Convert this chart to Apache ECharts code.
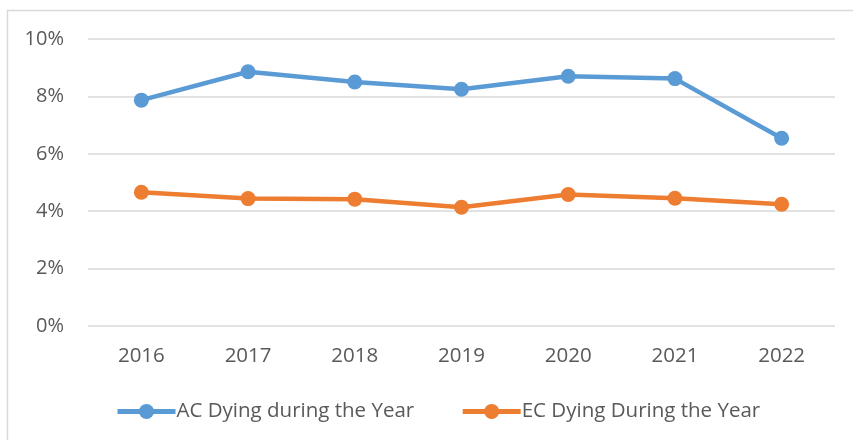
<!DOCTYPE html>
<html lang="en">
<head>
    <meta charset="UTF-8">
    <title>Dying during the Year</title>
    <script src="https://cdn.jsdelivr.net/npm/echarts@6/dist/echarts.min.js"></script>
    <style>
        html, body { margin: 0; padding: 0; background: #fff; }
    </style>
</head>
<body>
<div id="main" style="width: 853px;height:440px;"></div>
<script type="text/javascript">
    // data
    var years = ['2016', '2017', '2018', '2019', '2020', '2021', '2022'];
    var acDying = [7.87, 8.86, 8.50, 8.25, 8.70, 8.62, 6.54];
    var ecDying = [4.66, 4.44, 4.42, 4.14, 4.58, 4.45, 4.24];
    var seriesNames = ['AC Dying during the Year', 'EC Dying During the Year'];

    var textColor = '#595959';
    var fontName = '"Open Sans", "Noto Sans", sans-serif';

    var myChart = echarts.init(document.getElementById('main'));

    myChart.setOption({
        backgroundColor: '#ffffff',
        animation: false,
        graphic: [{
            type: 'rect',
            shape: { x: 7.5, y: 10.5, width: 900, height: 500 },
            style: { fill: 'none', stroke: '#d9d9d9', lineWidth: 1.5 },
            silent: true
        }],
        grid: {
            left: 88,
            right: 18,
            top: 39,
            bottom: 114
        },
        legend: {
            left: 110,
            top: 396,
            itemWidth: 58,
            itemHeight: 19,
            itemGap: 46,
            lineStyle: { width: 5 },
            textStyle: {
                color: textColor,
                fontSize: 20.5,
                fontFamily: fontName,
                padding: [0, 0, 0, -4]
            },
            data: seriesNames
        },
        xAxis: {
            type: 'category',
            data: years,
            boundaryGap: true,
            axisLine: { show: false },
            axisTick: { show: false },
            axisLabel: {
                color: textColor,
                fontSize: 20.5,
                fontFamily: fontName,
                margin: 20
            }
        },
        yAxis: {
            type: 'value',
            min: 0,
            max: 10,
            interval: 2,
            axisLine: { show: false },
            axisTick: { show: false },
            axisLabel: {
                color: textColor,
                fontSize: 20,
                fontFamily: fontName,
                margin: 24,
                formatter: '{value}%'
            },
            splitLine: {
                lineStyle: { color: '#d9d9d9', width: 1.5 }
            }
        },
        series: [
            {
                name: seriesNames[0],
                type: 'line',
                data: acDying,
                symbol: 'circle',
                symbolSize: 15,
                itemStyle: { color: '#5b9bd5' },
                lineStyle: { width: 4.5, color: '#5b9bd5' }
            },
            {
                name: seriesNames[1],
                type: 'line',
                data: ecDying,
                symbol: 'circle',
                symbolSize: 15,
                itemStyle: { color: '#ed7d31' },
                lineStyle: { width: 4.5, color: '#ed7d31' }
            }
        ]
    });
</script>
</body>
</html>
